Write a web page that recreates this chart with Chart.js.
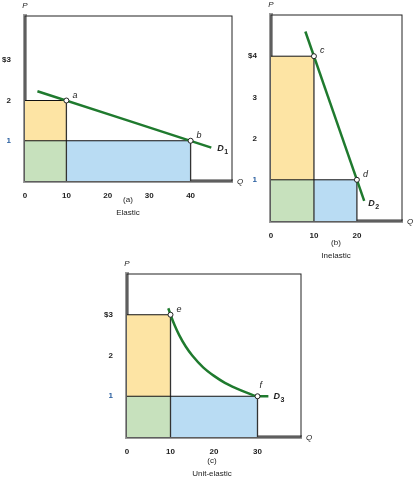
<!DOCTYPE html>
<html>
<head>
<meta charset="utf-8">
<script src="https://cdn.jsdelivr.net/npm/chart.js@4/dist/chart.umd.min.js"></script>
<style>
  body { margin: 0; background: #fff; }
  canvas { position: absolute; }
</style>
</head>
<body>
<canvas id="pa" style="left:0;top:0;width:245px;height:220px"></canvas>
<canvas id="pb" style="left:240px;top:0;width:176px;height:270px"></canvas>
<canvas id="pc" style="left:100px;top:255px;width:220px;height:228px"></canvas>
<script>
// Panel (a) elastic
const xTicksA = [0, 10, 20, 30, 40];
const yTicksA = [1, 2, 3];
const yLabelsA = ['1', '2', '$3'];
const demandA = [{x: 3, y: 2.23}, {x: 45, y: 0.83}];
const pointsA = [{x: 10, y: 2, n: 'a'}, {x: 40, y: 1, n: 'b'}];

// Panel (b) inelastic
const xTicksB = [0, 10, 20];
const yTicksB = [1, 2, 3, 4];
const yLabelsB = ['1', '2', '3', '$4'];
const demandB = [{x: 8, y: 4.6}, {x: 21.7, y: 0.49}];
const pointsB = [{x: 10, y: 4, n: 'c'}, {x: 20, y: 1, n: 'd'}];

// Panel (c) unit-elastic
const xTicksC = [0, 10, 20, 30];
const yTicksC = [1, 2, 3];
const yLabelsC = ['1', '2', '$3'];
const demandC = [{x: 9.5, y: 3.16}, {x: 10, y: 3}, {x: 11, y: 2.73}, {x: 12, y: 2.5}, {x: 13.5, y: 2.22},
  {x: 15, y: 2}, {x: 17.5, y: 1.71}, {x: 20, y: 1.5}, {x: 22.5, y: 1.33}, {x: 25, y: 1.2},
  {x: 27.5, y: 1.09}, {x: 30, y: 1}, {x: 32.5, y: 1}];
const pointsC = [{x: 10, y: 3, n: 'e'}, {x: 30, y: 1, n: 'f'}];

const YELLOW = '#fde4a4', GREEN = '#c7e1bd', BLUE = '#b9dcf3', DGREEN = '#1f7a2e';
const FONT = "'Liberation Sans', Arial, sans-serif";

function makePanel(id, o) {
  const p1 = o.points[0], p2 = o.points[1];
  const rect = (pts, fill, col) => ({type: 'line', data: pts, showLine: true, borderWidth: 0, pointRadius: 0,
    backgroundColor: col, fill: fill, order: 5});
  const seg = (pts, col, w) => ({type: 'line', data: pts, showLine: true, borderColor: col, borderWidth: w,
    pointRadius: 0, fill: false, order: 3});
  const datasets = [
    rect([{x: 0, y: p1.y}, {x: p1.x, y: p1.y}], {value: p2.y}, YELLOW),
    rect([{x: 0, y: p2.y}, {x: p1.x, y: p2.y}], 'origin', GREEN),
    rect([{x: p1.x, y: p2.y}, {x: p2.x, y: p2.y}], 'origin', BLUE),
    seg([{x: 0, y: p1.y}, {x: p1.x, y: p1.y}], '#111', 1),
    seg([{x: 0, y: p2.y}, {x: p2.x, y: p2.y}], '#111', 1),
    seg([{x: p1.x, y: 0}, {x: p1.x, y: p1.y}], '#333', 1.3),
    seg([{x: p2.x, y: 0}, {x: p2.x, y: p2.y}], '#333', 1.3),
    {type: 'line', data: o.demand, showLine: true, borderColor: DGREEN, borderWidth: 2.5, pointRadius: 0,
      fill: false, tension: 0.4, cubicInterpolationMode: 'monotone', order: 2},
    {type: 'scatter', data: o.points, pointRadius: 2.5, pointBackgroundColor: '#fff',
      pointBorderColor: '#222', pointBorderWidth: 1, order: 1}
  ];
  const textPlugin = {
    id: 'texts',
    beforeDatasetsDraw(chart) {
      const a = chart.chartArea, c = chart.ctx;
      c.save(); c.strokeStyle = '#222'; c.lineWidth = 1;
      c.strokeRect(a.left, a.top, a.right - a.left, a.bottom - a.top);
      c.restore();
    },
    afterDraw(chart) {
      const a = chart.chartArea, c = chart.ctx, xs = chart.scales.x, ys = chart.scales.y;
      c.save();
      c.fillStyle = '#222';
      c.font = 'italic 8px ' + FONT;
      c.textAlign = 'center';
      c.fillText('P', a.left, a.top - 8);
      c.fillText('Q', a.right + 8, a.bottom + 3);
      c.font = 'italic 9px ' + FONT;
      c.textAlign = 'left';
      o.points.forEach((p, i) => {
        const px = xs.getPixelForValue(p.x), py = ys.getPixelForValue(p.y);
        if (o.labelAbove && i === 1) c.fillText(p.n, px + 2, py - 8);
        else c.fillText(p.n, px + 6, py - 3);
      });
      const end = o.demand[o.demand.length - 1];
      const ex = xs.getPixelForValue(end.x) + o.dOff[0], ey = ys.getPixelForValue(end.y) + o.dOff[1];
      c.font = 'bold italic 9px ' + FONT;
      c.fillText('D', ex, ey);
      c.font = 'bold 7px ' + FONT;
      c.fillText(o.dSub, ex + 7, ey + 3);
      c.textAlign = 'center';
      c.font = '8px ' + FONT;
      c.fillText(o.cap[0], o.capX, o.capY);
      c.fillText(o.cap[1], o.capX, o.capY + 13);
      c.restore();
    }
  };
  new Chart(document.getElementById(id), {
    data: {datasets},
    options: {
      responsive: false, animation: false,
      layout: {padding: {top: o.pad[0], right: o.pad[1], left: 0, bottom: 0}},
      plugins: {legend: {display: false}, tooltip: {enabled: false}},
      scales: {
        x: {type: 'linear', min: 0, max: o.xMax,
          grid: {display: false}, border: {color: '#9a9a9a', width: 4},
          afterBuildTicks: s => { s.ticks = o.xTicks.map(v => ({value: v})); },
          afterFit: s => { s.height = o.xH; },
          ticks: {color: '#222', font: {family: FONT, size: 8, weight: 'bold'}, padding: 2, maxRotation: 0}},
        y: {type: 'linear', min: 0, max: o.yMax,
          grid: {display: false}, border: {color: '#9a9a9a', width: 4},
          afterBuildTicks: s => { s.ticks = o.yTicks.map(v => ({value: v})); },
          afterFit: s => { s.width = o.yW; },
          ticks: {color: c => (c.tick && c.tick.value === 1 ? '#2a5fa0' : '#222'),
            font: {family: FONT, size: 8, weight: 'bold'}, padding: 6,
            callback: v => o.yLabels[o.yTicks.indexOf(v)]}}
      }
    },
    plugins: [textPlugin]
  });
}

function setup(id, w, h) {
  const cv = document.getElementById(id);
  cv.width = w; cv.height = h;
}
setup('pa', 245, 220); setup('pb', 176, 270); setup('pc', 220, 228);

makePanel('pa', {xTicks: xTicksA, yTicks: yTicksA, yLabels: yLabelsA, demand: demandA, points: pointsA,
  xMax: 50, yMax: 4.1, pad: [16, 13], yW: 25, xH: 39, dSub: '1', dOff: [6, 3],
  cap: ['(a)', 'Elastic'], capX: 128, capY: 202});
makePanel('pb', {xTicks: xTicksB, yTicks: yTicksB, yLabels: yLabelsB, demand: demandB, points: pointsB,
  xMax: 30.5, yMax: 5.0, pad: [15, 14], yW: 31, xH: 49, dSub: '2', dOff: [4, 5],
  cap: ['(b)', 'Inelastic'], capX: 96, capY: 245});
makePanel('pc', {xTicks: xTicksC, yTicks: yTicksC, yLabels: yLabelsC, demand: demandC, points: pointsC,
  xMax: 40, yMax: 4.0, pad: [19, 19], yW: 27, xH: 46, dSub: '3', dOff: [5, 3], labelAbove: true,
  cap: ['(c)', 'Unit-elastic'], capX: 112, capY: 208});
</script>
</body>
</html>
